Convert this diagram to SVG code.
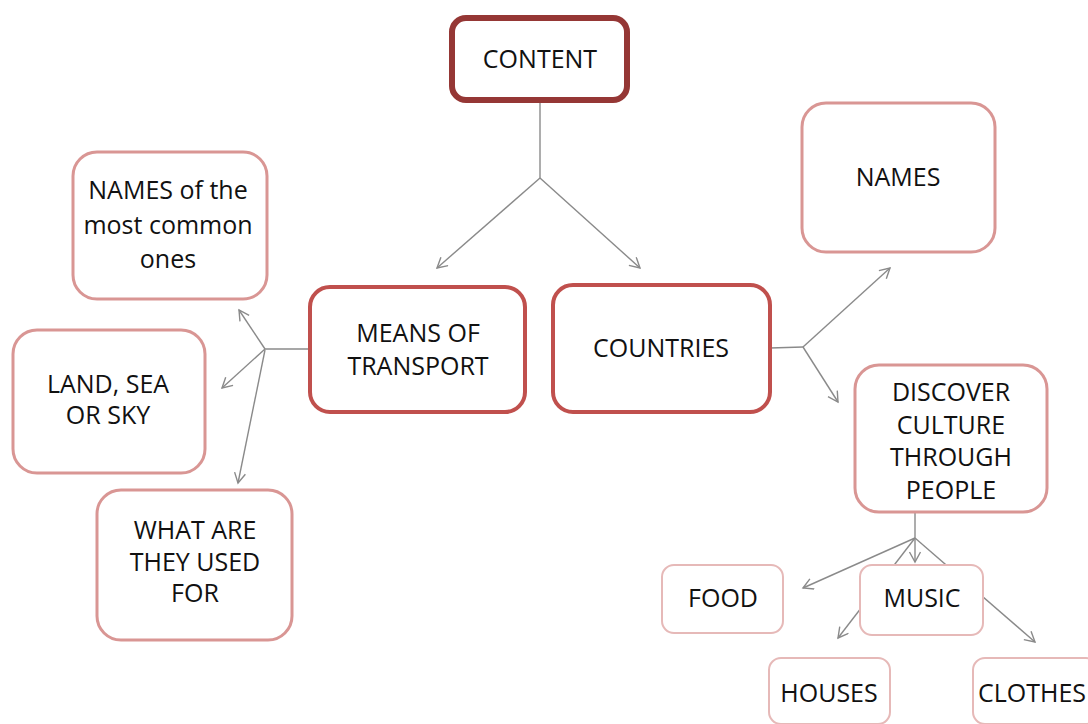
<svg xmlns="http://www.w3.org/2000/svg" width="1088" height="724" viewBox="0 0 1088 724">
<style>
.t{font-family:"Open Sans","Liberation Sans",sans-serif;font-size:25px;fill:#111;text-anchor:middle}
.top{fill:#fff;stroke:#953735;stroke-width:6}
.main{fill:#fff;stroke:#C0504D;stroke-width:4}
.sub{fill:#fff;stroke:#D99694;stroke-width:3}
.leaf{fill:#fff;stroke:#E6B9B8;stroke-width:2}
.c{fill:none;stroke:#8a8a8a;stroke-width:1.4}
.a{marker-end:url(#arr)}
</style>
<defs>
<marker id="arr" markerWidth="14" markerHeight="14" refX="11" refY="6" orient="auto" markerUnits="userSpaceOnUse">
<path d="M1,0.5 L11,6 L1,11.5" fill="none" stroke="#8a8a8a" stroke-width="1.4"/>
</marker>
</defs>
<rect width="1088" height="724" fill="#fff"/>
<g id="connectors">
<path class="c" d="M540,100 L540,178"/>
<path class="c a" d="M540,178 L437,268"/>
<path class="c a" d="M540,178 L640,268"/>
<path class="c" d="M310,349 L265,349"/>
<path class="c a" d="M265,349 L239,310"/>
<path class="c a" d="M265,349 L222,388"/>
<path class="c a" d="M265,350 L238,483"/>
<path class="c" d="M770,348 L803,347"/>
<path class="c a" d="M803,347 L890,268"/>
<path class="c a" d="M803,347 L838,402"/>
<path class="c" d="M915,512 L915,538"/>
<path class="c a" d="M915,538 L803,588"/>
<path class="c a" d="M915,538 L915,562"/>
<path class="c a" d="M915,538 L838,638"/>
<path class="c a" d="M915,538 L1035,642"/>
</g>
<g id="content">
<rect class="top" x="452" y="18" width="175" height="82" rx="14"/>
<text class="t" x="540" y="68">CONTENT</text>
</g>
<g id="means">
<rect class="main" x="310" y="287" width="215" height="125" rx="20"/>
<text class="t" x="418" y="342">MEANS OF</text>
<text class="t" x="418" y="375">TRANSPORT</text>
</g>
<g id="countries">
<rect class="main" x="553" y="285" width="217" height="127" rx="20"/>
<text class="t" x="661" y="357">COUNTRIES</text>
</g>
<g id="names-common">
<rect class="sub" x="73" y="152" width="194" height="147" rx="24"/>
<text class="t" x="168" y="199">NAMES of the</text>
<text class="t" x="168" y="234">most common</text>
<text class="t" x="168" y="268">ones</text>
</g>
<g id="land">
<rect class="sub" x="13" y="330" width="192" height="143" rx="24"/>
<text class="t" x="108" y="393">LAND, SEA</text>
<text class="t" x="108" y="424">OR SKY</text>
</g>
<g id="what">
<rect class="sub" x="97" y="490" width="195" height="150" rx="24"/>
<text class="t" x="195" y="539">WHAT ARE</text>
<text class="t" x="195" y="571">THEY USED</text>
<text class="t" x="195" y="602">FOR</text>
</g>
<g id="names">
<rect class="sub" x="802" y="103" width="193" height="149" rx="24"/>
<text class="t" x="898" y="186">NAMES</text>
</g>
<g id="discover">
<rect class="sub" x="855" y="365" width="192" height="147" rx="24"/>
<text class="t" x="951" y="401">DISCOVER</text>
<text class="t" x="951" y="434">CULTURE</text>
<text class="t" x="951" y="466">THROUGH</text>
<text class="t" x="951" y="499">PEOPLE</text>
</g>
<g id="food">
<rect class="leaf" x="662" y="565" width="121" height="68" rx="12"/>
<text class="t" x="723" y="607">FOOD</text>
</g>
<g id="music">
<rect class="leaf" x="860" y="565" width="123" height="70" rx="12"/>
<text class="t" x="922" y="607">MUSIC</text>
</g>
<g id="houses">
<rect class="leaf" x="769" y="658" width="121" height="66" rx="12"/>
<text class="t" x="829" y="702">HOUSES</text>
</g>
<g id="clothes">
<rect class="leaf" x="973" y="658" width="125" height="66" rx="12"/>
<text class="t" x="1032" y="702">CLOTHES</text>
</g>
</svg>
